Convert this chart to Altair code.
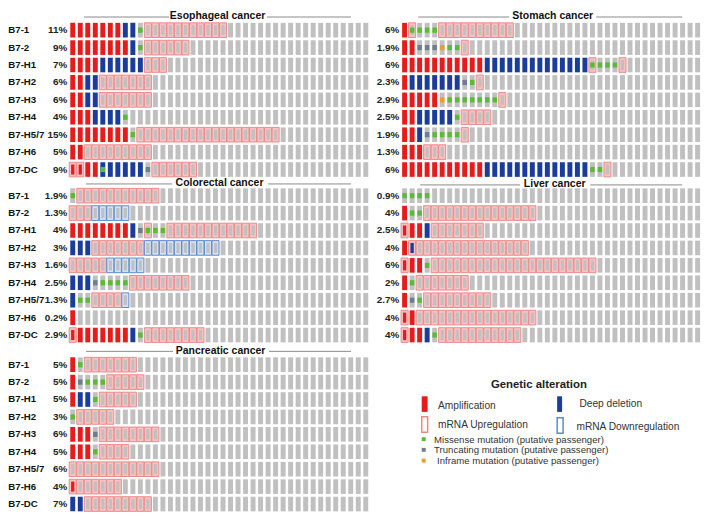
import altair as alt
import pandas as pd

genes = ["B7-1", "B7-2", "B7-H1", "B7-H2", "B7-H3", "B7-H4", "B7-H5/7", "B7-H6", "B7-DC"]

# One string per gene row, one character per sample column (remaining columns unaltered).
# . none  A amplification  D deep deletion  M missense  T truncating  I inframe
# U mRNA up  W mRNA down  a amp+up  b deletion+up  e deletion+missense  v up+missense
esophageal_cells = [
    "AAAAAAADDMUUUUUUUUUUU",
    "AAAAAAAADMUUUUUU",
    "AAAADDDDDDUUU",
    "AADDUUUUUUU",
    "AADDUUUUUUU",
    "AAADDDDM",
    "AAAAAAAAMUUUUUUUUUUUUUUUUUUU",
    "AAUUUUUUUUU",
    "aaAAeDDDDDTUUUUUU",
]
esophageal_pct = ["11%", "9%", "7%", "6%", "6%", "4%", "15%", "5%", "9%"]

colorectal_cells = [
    "MUUUUUUUUUUU",
    "UUUWWWWW",
    "AAAAAAAADTvMMUUUUUUUUUUUU",
    "DDDUUUUUUUWWWWWWWWWW",
    "UUUUUWWWWW",
    "DDDTMMMMUUUUUUUU",
    "DMMUUUUW",
    "A",
    "aAAAAAAADMUUUUUUUU",
]
colorectal_pct = ["1.9%", "1.3%", "4%", "3%", "1.6%", "2.5%", "1.3%", "0.2%", "2.9%"]

pancreatic_cells = [
    "AMUUUUUUU",
    "ATMMMUUUUU",
    "ADDMUUUUU",
    "MUUUUU",
    "AAATUUUUUUUU",
    "AAAMUUUU",
    "UUUUUUUUUUUU",
    "aUUUUUU",
    "DDUUUUUUUUU",
]
pancreatic_pct = ["5%", "5%", "5%", "3%", "6%", "5%", "6%", "4%", "7%"]

stomach_cells = [
    "AvMMMUUUUUUUUUU",
    "AATTTIMMU",
    "AAAAAAAAAAADDDDDDDDDDDDDDvMMMU",
    "ADDDDDDDTMU",
    "AAAAAIMMMMMMMU",
    "AADDDDDMUUUU",
    "AADTMMMMU",
    "AAAUUU",
    "AAAAAAAAAAADDDDDDDDDDDDDDMMU",
]
stomach_pct = ["6%", "1.9%", "6%", "2.3%", "2.9%", "2.5%", "1.9%", "1.3%", "6%"]

liver_cells = [
    "MMMM",
    "AMMUUUUUUUUUUUUUUU",
    "aAADUUUUUUU",
    "AbUUUUUUUUUUUUUUU",
    "aAAMUUUUUUUUUUUUUUUUUUUUUU",
    "AMUUUUUUU",
    "ATMUUUUUUUUU",
    "aAUUUUUUUUUUUUUUUU",
    "aAADMUUUUUUUUUUU",
]
liver_pct = ["0.9%", "4%", "2.5%", "4%", "6%", "2%", "2.7%", "4%", "4%"]

panel_names = ["Esophageal cancer", "Colorectal cancer", "Pancreatic cancer", "Stomach cancer", "Liver cancer"]
panel_cells = [esophageal_cells, colorectal_cells, pancreatic_cells, stomach_cells, liver_cells]
panel_pcts = [esophageal_pct, colorectal_pct, pancreatic_pct, stomach_pct, liver_pct]

legend_labels = ["Amplification", "Deep deletion", "mRNA Upregulation", "mRNA Downregulation",
                 "Missense mutation (putative passenger)", "Truncating mutation (putative passenger)",
                 "Inframe mutation (putative passenger)"]
legend_kinds = ["amp", "del", "up", "down", "missense", "trunc", "inframe"]

# ---------------- layout ----------------
N_COLS = 40
SIDE_OFFSET = {"left": 0.0, "right": 44.17}
GROUP_OFFSET = [0.0, 9.5, 19.2]
panel_slot = [("left", 0), ("left", 1), ("left", 2), ("right", 0), ("right", 1)]


def ux(px):
    return (px - 73.5) / 7.6


def uy(py):
    return (py - 19.8) / 17.9


# title centre, title y, left line, right line (reference pixel layout)
title_layout = [
    (220, 5.5, (85, 171), (270, 355)),
    (222, 177, (87, 174), (271, 355)),
    (223, 349, (87, 175), (272, 355)),
    (559, 5.5, (423, 515), (603, 690)),
    (561, 178, (425, 526), (597, 690)),
]
legend_box = [(429, 435, 396, 412), (566, 571, 396, 412), (429, 435, 417, 433), (566, 572, 418, 434),
              (429, 433, 438, 442), (429, 433, 449, 453), (429, 433, 460, 464)]
legend_text_pos = [(443, 406), (586, 404), (443, 425), (583, 428), (439, 441), (439, 451), (442, 462)]

CODE = {
    ".": ("none", "none", "none"),
    "A": ("amp", "none", "none"),
    "D": ("del", "none", "none"),
    "M": ("none", "none", "missense"),
    "T": ("none", "none", "trunc"),
    "I": ("none", "none", "inframe"),
    "U": ("none", "up", "none"),
    "W": ("none", "down", "none"),
    "a": ("amp", "up", "none"),
    "b": ("del", "up", "none"),
    "e": ("del", "none", "missense"),
    "v": ("none", "up", "missense"),
}

records = []
for p, name in enumerate(panel_names):
    side, grp = panel_slot[p]
    for r, s in enumerate(panel_cells[p]):
        for i in range(N_COLS):
            ch = s[i] if i < len(s) else "."
            cna, expr, mut = CODE[ch]
            records.append(dict(panel=name, gene=genes[r], col=i,
                                xc=SIDE_OFFSET[side] + i, yc=GROUP_OFFSET[grp] + r,
                                cna=cna, expr=expr, mut=mut))
cells = pd.DataFrame(records)

gene_df = pd.DataFrame([dict(label=g, x=-8.58, y=GROUP_OFFSET[grp] + r)
                        for grp in range(3) for r, g in enumerate(genes)])
pct_df = pd.DataFrame([dict(label=t, x=SIDE_OFFSET[panel_slot[p][0]] - 0.72,
                            y=GROUP_OFFSET[panel_slot[p][1]] + r)
                       for p in range(5) for r, t in enumerate(panel_pcts[p])])
title_df = pd.DataFrame([dict(label=panel_names[p], x=ux(t[0]), y=uy(t[1]))
                         for p, t in enumerate(title_layout)])
line_df = pd.DataFrame([dict(x=ux(seg[0]), x2=ux(seg[1]), y=uy(t[1] + 0.8))
                        for t in title_layout for seg in (t[2], t[3])])
leg_sw = pd.DataFrame([dict(kind=k, x=ux(b[0] - 2.5), x2=ux(b[1] - 2.5), y=uy(b[2]), y2=uy(b[3]))
                       for k, b in zip(legend_kinds, legend_box)])
leg_tx = pd.DataFrame([dict(label=l, x=ux(p[0]), y=uy(p[1]), big=i < 4)
                       for i, (l, p) in enumerate(zip(legend_labels, legend_text_pos))])
leg_title = pd.DataFrame([dict(label="Genetic alteration", x=ux(545), y=uy(384))])

KIND = ["none", "amp", "del", "missense", "trunc", "inframe", "up", "down"]
KIND_COLORS = ["#c0c0c0", "#e61c1c", "#1a3c9c", "#5bbb35", "#6f7e8e", "#f09a2a", "#f8c2c2", "#d7e1f0"]
color_scale = alt.Scale(domain=KIND, range=KIND_COLORS)
stroke_scale = alt.Scale(domain=["up", "down"], range=["#eb8a8a", "#5b8ccf"])

XS = alt.Scale(domain=[-8.618, 83.62], nice=False, zero=False)
YS = alt.Scale(domain=[-1.106, 27.72], nice=False, zero=False, reverse=True)
FONT = "Liberation Sans"


def cell_layer(filt, dx, dy, field, **mark_kw):
    base = alt.Chart(cells).transform_filter(filt).transform_calculate(
        x1=f"datum.xc - {dx}", x2=f"datum.xc + {dx}",
        y1=f"datum.yc - {dy}", y2=f"datum.yc + {dy}")
    enc = dict(
        x=alt.X("x1:Q", scale=XS, axis=None), x2="x2:Q",
        y=alt.Y("y1:Q", scale=YS, axis=None), y2="y2:Q",
        color=alt.Color(f"{field}:N", scale=color_scale, legend=None),
    )
    if "stroke" in mark_kw:
        mark_kw.pop("stroke")
        enc["stroke"] = alt.Stroke("expr:N", scale=stroke_scale, legend=None)
    return base.mark_rect(**mark_kw).encode(**enc)


plain = cell_layer("datum.expr == 'none'", 0.33, 0.42, "cna")
outer = cell_layer("datum.expr != 'none'", 0.47, 0.42, "expr", stroke=True, strokeWidth=1)
inner = cell_layer("datum.expr != 'none'", 0.22, 0.29, "cna")
muts = cell_layer("datum.mut != 'none'", 0.3, 0.15, "mut")


def text_layer(df, align, size, weight="bold", color="#111"):
    return alt.Chart(df).mark_text(align=align, baseline="middle", font=FONT, fontSize=size,
                                   fontWeight=weight, color=color).encode(
        x=alt.X("x:Q", scale=XS, axis=None), y=alt.Y("y:Q", scale=YS, axis=None), text="label:N")


gene_text = text_layer(gene_df, "left", 9.8)
pct_text = text_layer(pct_df, "right", 10, color="#222")
titles = text_layer(title_df, "center", 10.6)
lines = alt.Chart(line_df).mark_rule(color="#8a8a8a", strokeWidth=1).encode(
    x=alt.X("x:Q", scale=XS, axis=None), x2="x2:Q", y=alt.Y("y:Q", scale=YS, axis=None))

sw_filled = alt.Chart(leg_sw).transform_filter("datum.kind != 'up' && datum.kind != 'down'").mark_rect().encode(
    x=alt.X("x:Q", scale=XS, axis=None), x2="x2:Q", y=alt.Y("y:Q", scale=YS, axis=None), y2="y2:Q",
    color=alt.Color("kind:N", scale=color_scale, legend=None))
sw_outline = alt.Chart(leg_sw).transform_filter("datum.kind == 'up' || datum.kind == 'down'").mark_rect(
    fill="white", strokeWidth=1.5).encode(
    x=alt.X("x:Q", scale=XS, axis=None), x2="x2:Q", y=alt.Y("y:Q", scale=YS, axis=None), y2="y2:Q",
    stroke=alt.Stroke("kind:N", scale=stroke_scale, legend=None))
leg_big = text_layer(leg_tx[leg_tx.big], "left", 10.3, weight="normal", color="#333")
leg_small = text_layer(leg_tx[~leg_tx.big], "left", 9.7, weight="normal", color="#333")
leg_head = text_layer(leg_title, "center", 11.5, color="#222")

chart = alt.layer(
    plain, outer, inner, muts, gene_text, pct_text, lines, titles,
    sw_filled, sw_outline, leg_big, leg_small, leg_head,
).properties(
    width=701, height=508, padding=0, autosize=alt.AutoSizeParams(type="none"),
).configure_view(stroke=None)

chart.save("out.html", embed_options={"renderer": "svg", "actions": False})
